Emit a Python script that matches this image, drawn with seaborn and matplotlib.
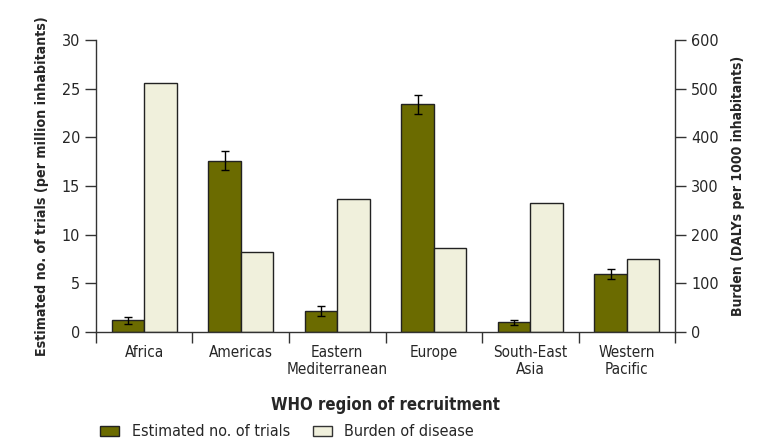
import numpy as np
import pandas as pd
import matplotlib
matplotlib.use("Agg")
import matplotlib.pyplot as plt
import seaborn as sns
from matplotlib.patches import Patch

# ======= Data ========
regions = ["Africa", "Americas", "Eastern\nMediterranean", "Europe",
           "South-East\nAsia", "Western\nPacific"]
trials = [1.2, 17.6, 2.2, 23.4, 1.0, 6.0]          # per million inhabitants
trials_err = [0.35, 1.0, 0.5, 1.0, 0.25, 0.5]
burden = [512, 164, 274, 172, 265, 151]             # DALYs per 1000 inhabitants

TRIALS = "Estimated no. of trials"
BURDEN = "Burden of disease"
DARK = "#6b6b00"
LIGHT = "#f0f0dc"
SCALE = 20   # right axis (0-600) over left axis (0-30)

sns.set_style("ticks")
plt.rcParams['font.family'] = ['DejaVu Sans']
plt.rcParams['font.stretch'] = 'condensed'
plt.rcParams['font.size'] = 11

# both series on the left scale; the twin axis carries the burden units
df = pd.concat([
    pd.DataFrame({"region": regions, "value": trials, "series": TRIALS}),
    pd.DataFrame({"region": regions, "value": np.array(burden) / SCALE, "series": BURDEN}),
])
palette = {TRIALS: DARK, BURDEN: LIGHT}

fig = plt.figure(figsize=(7.71, 4.47), dpi=100)
ax = fig.add_axes([0.1245, 0.257, 0.751, 0.6535])
ax2 = ax.twinx()

sns.barplot(data=df, x="region", y="value", hue="series", order=regions,
            hue_order=[TRIALS, BURDEN], palette=palette, width=0.67, saturation=1,
            edgecolor="#222222", linewidth=1, ax=ax, legend=False)

# error bars on the trial bars
bars = ax.patches[:len(regions)]
xs = [p.get_x() + p.get_width() / 2 for p in bars]
ax.errorbar(xs, trials, yerr=trials_err, fmt="none", ecolor="black",
            elinewidth=1, capsize=3, capthick=1)

ax.set_ylim(0, 30)
ax2.set_ylim(0, 30 * SCALE)
ax.set_xlim(-0.5, len(regions) - 0.5)
ax.set_yticks(range(0, 31, 5))
ax2.set_yticks(range(0, 601, 100))

ax.set_xticks(range(len(regions)))
ax.set_xticklabels(regions, fontsize=11, linespacing=1.2)
ax.set_xticks(np.arange(-0.5, len(regions), 1), minor=True)
ax.tick_params(axis="x", which="major", length=0, pad=9)
ax.tick_params(axis="x", which="minor", length=8, width=1, color="#333333")
ax.tick_params(axis="y", length=8, width=1, color="#333333", labelsize=11.5)
ax2.tick_params(axis="y", length=8, width=1, color="#333333", labelsize=11.5)

ax.set_xlabel("WHO region of recruitment", fontweight="bold", fontsize=12, labelpad=14)
ax.set_ylabel("Estimated no. of trials (per million inhabitants)", fontweight="bold",
              fontsize=10.2, labelpad=9)
ax2.set_ylabel("Burden (DALYs per 1000 inhabitants)", fontweight="bold",
               fontsize=10, labelpad=9)

for a in (ax, ax2):
    a.spines["top"].set_visible(False)
    for s in ("left", "right", "bottom"):
        a.spines[s].set_color("#333333")
        a.spines[s].set_linewidth(1)
ax.spines["right"].set_visible(False)
ax2.spines["left"].set_visible(False)
ax2.spines["bottom"].set_visible(False)

handles = [Patch(facecolor=DARK, edgecolor="#222222", label=TRIALS),
           Patch(facecolor=LIGHT, edgecolor="#333333", label=BURDEN)]
fig.legend(handles=handles, loc="lower left", bbox_to_anchor=(0.111, -0.015),
           ncol=2, frameon=False, fontsize=11.5, handlelength=1.2, handleheight=0.6,
           columnspacing=1.4, handletextpad=0.8)

fig.savefig("out.png", dpi=100)
